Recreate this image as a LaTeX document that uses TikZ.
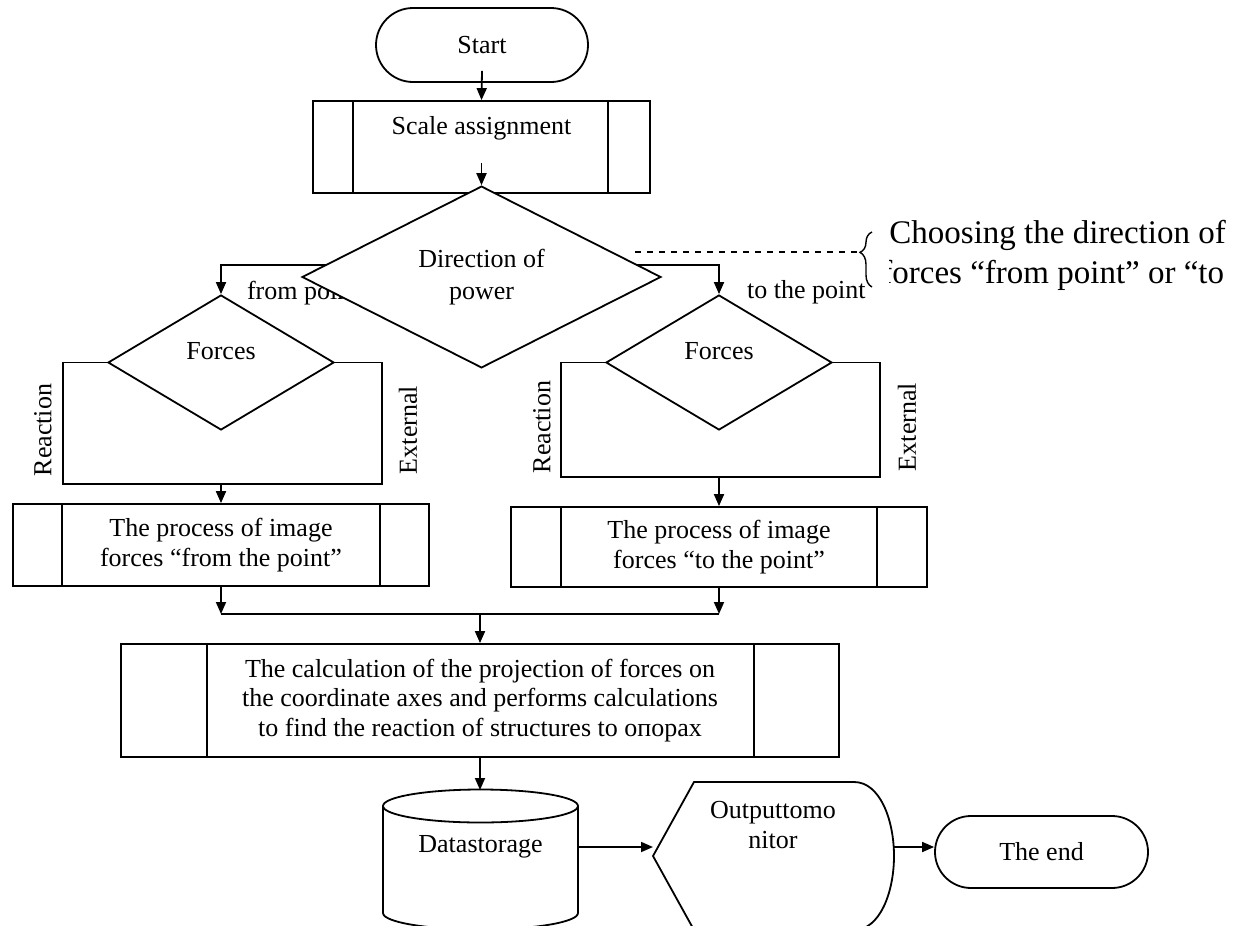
\documentclass[tikz,border=0pt]{standalone}
\usepackage{fontspec}
\setmainfont{Liberation Serif}
\usetikzlibrary{calc,shapes.geometric,shapes.misc,arrows.meta,decorations.pathreplacing}
\def\sidebars(#1)(#2:#3){\draw[line width=0.9pt] ([xshift=#2]#1.north west) -- ([xshift=#2]#1.south west); \draw[line width=0.9pt] ([xshift=-#3]#1.north east) -- ([xshift=-#3]#1.south east);}
\tikzset{
	flow/.style={line width=0.9pt, -{Triangle[length=6pt,width=5pt]}},
	term/.style={draw, line width=0.9pt, rounded rectangle, inner sep=0pt},
	subproc/.style={draw, line width=0.9pt, rectangle, align=center, inner sep=0pt},
	choice/.style={draw, line width=0.9pt, diamond, inner sep=0pt, align=center, fill=white},
	side/.style={rotate=90}
}

\begin{document}
\begin{tikzpicture}[x=0.5pt, y=-0.5pt, font=\fontsize{13}{14.8}\selectfont]
		%%%%% START %%%%%
		\clip (0,0) rectangle (1237,926);
		
		\node[term, minimum width=106pt, minimum height=37pt] (start) at (482,45) {Start};
		\node[subproc, minimum width=168.5pt, minimum height=46pt, text height=9pt, text depth=22pt] (scale) at (481.5,147) {Scale assignment};
		\sidebars(scale)(20.5pt:21.5pt);
		\draw[flow] ([yshift=6pt]start.south) -- (scale.north);
		
		\node[anchor=west] (lblfrom) at (240,293) {from point};
		\node[anchor=west] (lblto) at (740,292) {to the point};
		\node[choice, minimum width=179.5pt, minimum height=85pt] (dir) at (481.5,277) {Direction of\\[1pt]power};
		\draw[flow] ([yshift=15.5pt]scale.south) -- (dir.north);
		
		\node[choice, minimum width=113pt, minimum height=67.5pt, text depth=12pt] (forcesL) at (221,362.5) {Forces};
		\node[choice, minimum width=113pt, minimum height=67.5pt, text depth=12pt] (forcesR) at (719,362.5) {Forces};
		\draw[flow] ($(dir.west)+(25,-12)$) -| (forcesL.north);
		\draw[flow] ($(dir.east)+(-25,-12)$) -| (forcesR.north);
		
		\draw[line width=0.9pt] (forcesL.west) -| (63,484) -| (382,362.5) -- (forcesL.east);
		\draw[line width=0.9pt] (forcesR.west) -| (561,477) -| (880,362.5) -- (forcesR.east);
		\node[side] (reactL) at (43,430) {Reaction};
		\node[side] (extL) at (408,430) {External};
		\node[side] (reactR) at (542,427) {Reaction};
		\node[side] (extR) at (907,427) {External};
		
		\node[subproc, minimum width=208pt, minimum height=41pt] (procL) at (221,545) {The process of image\\forces “from the point”};
		\node[subproc, minimum width=208pt, minimum height=40pt] (procR) at (719,547) {The process of image\\forces “to the point”};
		\sidebars(procL)(25pt:25pt);
		\sidebars(procR)(25.5pt:25.5pt);
		\draw[flow] (procL.north |- 0,484) -- (procL.north);
		\draw[flow] (procR.north |- 0,477) -- (procR.north);
		
		\coordinate (merge) at (480,614);
		\draw[flow] (procL.south) -- (procL.south |- merge);
		\draw[flow] (procR.south) -- (procR.south |- merge);
		\draw[line width=0.9pt] (procL.south |- merge) -- (procR.south |- merge);
		
		\node[subproc, minimum width=359pt, minimum height=56.5pt] (calc) at (480,700.5) {The calculation of the projection of forces on\\the coordinate axes and performs calculations\\to find the reaction of structures to опорах};
		\sidebars(calc)(43.5pt:43pt);
		\draw[flow] (merge) -- (calc.north);
		
		% data storage
		\draw[line width=0.9pt] (383,806) -- (383,913) arc[start angle=180, end angle=360, x radius=48.75pt, y radius=8.25pt] -- (578,806);
		\draw[line width=0.9pt] (480.5,806) ellipse [x radius=48.75pt, y radius=8.25pt];
		\node[minimum width=97.5pt, inner sep=0pt] (store) at (480.5,847) {Datastorage};
		\draw[flow] (calc.south) -- (calc.south |- 0,790);
		
		% display
		\coordinate (showin) at (653,847);
		\coordinate (showout) at (894,847);
		\draw[line width=0.9pt] (653,856) -- (694,782) -- (854,782) .. controls (880,782) and (894,820) .. (894,856) .. controls (894,892) and (880,930) .. (854,930) -- (694,930) -- cycle;
		\node[align=center] (show) at (773,825) {Outputtomo\\nitor};
		\node[term, minimum width=106.5pt, minimum height=36pt] (finish) at (1041.5,852) {The end};
		\draw[flow] (store.east) -- (showin);
		\draw[flow] (showout) -- (finish.west |- showout);
		
		% note
		\draw[line width=0.7pt, dashed] ($(dir.east)+(-27,-25)$) -- (858,252);
		\draw[line width=0.7pt, decorate, decoration={brace, amplitude=6pt, aspect=0.63}] (872,287) -- (872,232);
		\node[anchor=base west, inner sep=0pt, font=\fontsize{16.5}{20}\selectfont] (noteA) at (889,243) {Choosing the direction of};
		\begin{scope}
			\clip (889,255) rectangle (1237,300);
			\node[anchor=base west, inner sep=0pt, font=\fontsize{16.5}{20}\selectfont] (noteB) at (881,283) {forces “from point” or “to};
		\end{scope}
		
		%%%%% END %%%%%
	\end{tikzpicture}
\end{document}
